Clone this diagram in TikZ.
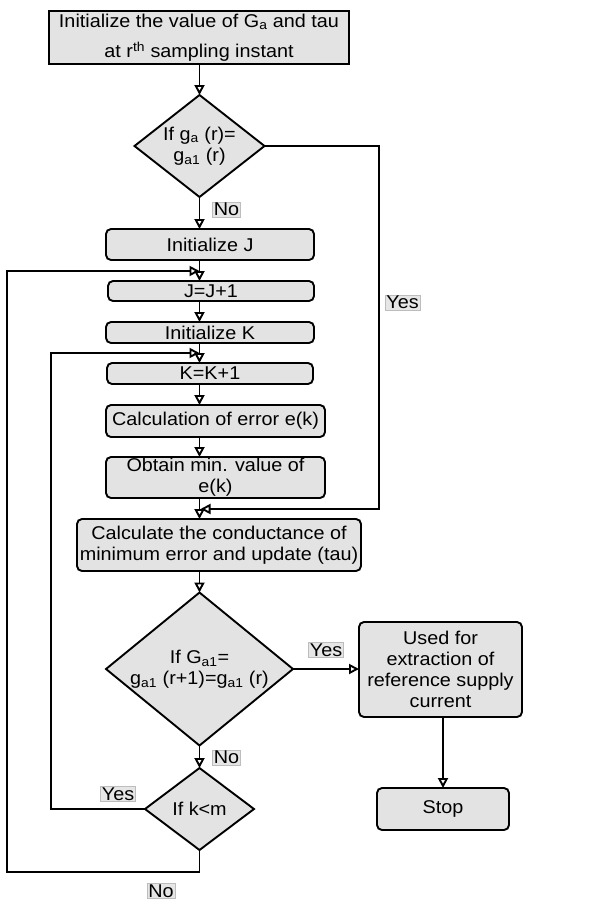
\documentclass[tikz,border=0pt]{standalone}
\usepackage{fontspec}
\setmainfont[FakeStretch=1.07]{Liberation Sans}
\usetikzlibrary{arrows.meta,shapes.geometric}
\definecolor{boxfill}{HTML}{E3E3E3}
\definecolor{lblfill}{HTML}{E6E6E6}
\definecolor{lbldraw}{HTML}{BDBDBD}
\begin{document}
\begin{tikzpicture}[x=1pt,y=-1pt,
  font=\fontsize{18.5}{21}\selectfont,
  every node/.style={inner sep=0pt, outer sep=0pt},
  box/.style={draw, line width=1.9pt, fill=boxfill, rounded corners=5pt, align=center},
  sbox/.style={draw, line width=1.9pt, fill=boxfill, align=center},
  dia/.style={diamond, draw, line width=1.9pt, fill=boxfill, align=center, inner sep=0pt},
  lbl/.style={fill=lblfill, draw=lbldraw, line width=0.6pt, inner sep=1.2pt},
  arr/.style={line width=1.9pt, -{Triangle[open,length=10pt,width=10pt]}},
]
\useasboundingbox (0,0) rectangle (594,900);

\node[sbox, minimum width=300pt, minimum height=53pt] (top) at (199,37.5)
  {Initialize the value of G\textsubscript{a} and tau\\[9pt] at r\textsuperscript{th} sampling instant};
\node[dia, minimum width=130pt, minimum height=102pt, aspect=1.27] (d1) at (199.5,146)
  {If g\textsubscript{a} (r)=\\ g\textsubscript{a1} (r)};
\node[box, minimum width=208pt, minimum height=31pt] (initJ) at (210,244.5) {Initialize J};
\node[box, minimum width=206pt, minimum height=20pt] (J1) at (211,291) {J=J+1};
\node[box, minimum width=208pt, minimum height=21pt] (initK) at (210,332.5) {Initialize K};
\node[box, minimum width=206pt, minimum height=21pt] (K1) at (210,373.5) {K=K+1};
\node[box, minimum width=219pt, minimum height=32pt] (calcE) at (215.5,421) {Calculation of error e(k)};
\node[box, minimum width=219pt, minimum height=41pt] (obt) at (215.5,477.5) {Obtain min. value of\\ e(k)};
\node[box, minimum width=284pt, minimum height=52pt] (calcC) at (219,545)
  {Calculate the conductance of\\ minimum error and update (tau)};
\node[dia, minimum width=187pt, minimum height=153pt, aspect=1.22] (d2) at (199.5,669)
  {If G\textsubscript{a1}=\\ g\textsubscript{a1} (r+1)=g\textsubscript{a1} (r)};
\node[box, minimum width=163pt, minimum height=95pt] (used) at (440.5,669.5)
  {Used for\\ extraction of\\ reference supply\\ current};
\node[box, minimum width=132pt, minimum height=42pt] (stop) at (443,809) {Stop};
\node[dia, minimum width=109pt, minimum height=82pt, aspect=1.33] (d3) at (199.5,809) {If k<m};

\coordinate (jJ) at (199.5,271);
\coordinate (jK) at (199.5,353);
\coordinate (jY) at (200.5,509);

\draw[arr] (top.south -| d1.north) -- (d1.north);
\draw[arr] (d1.south) -- (d1.south |- initJ.north);
\draw[arr] (initJ.south -| d1.south) -- (J1.north -| d1.south);
\draw[arr] (J1.south -| d1.south) -- (initK.north -| d1.south);
\draw[arr] (initK.south -| d1.south) -- (K1.north -| d1.south);
\draw[arr] (K1.south -| d1.south) -- (calcE.north -| d1.south);
\draw[arr] (calcE.south -| d1.south) -- (obt.north -| d1.south);
\draw[arr] (obt.south -| d1.south) -- (calcC.north -| d1.south);
\draw[arr] (calcC.south -| d2.north) -- (d2.north);
\draw[arr] (d2.south) -- (d3.north);
\draw[arr] (d2.east) -- (used.west |- d2.east);
\draw[arr] (used.south -| stop.north) -- (stop.north);
\draw[arr] (d1.east) -| (379,509) -- (jY);
\draw[arr] (d3.west) -| (51,353) -- (jK);
\draw[arr] (d3.south) -- ++(0,22) -| (7,271) -- (jJ);

\node[lbl] (no1) at (226.5,209.5) {No};
\node[lbl] (yes1) at (402.5,302.5) {Yes};
\node[lbl] (yes2) at (326,650) {Yes};
\node[lbl] (no2) at (226.5,757.5) {No};
\node[lbl] (yes3) at (118,794) {Yes};
\node[lbl] (no3) at (161,891) {No};
\end{tikzpicture}
\end{document}
